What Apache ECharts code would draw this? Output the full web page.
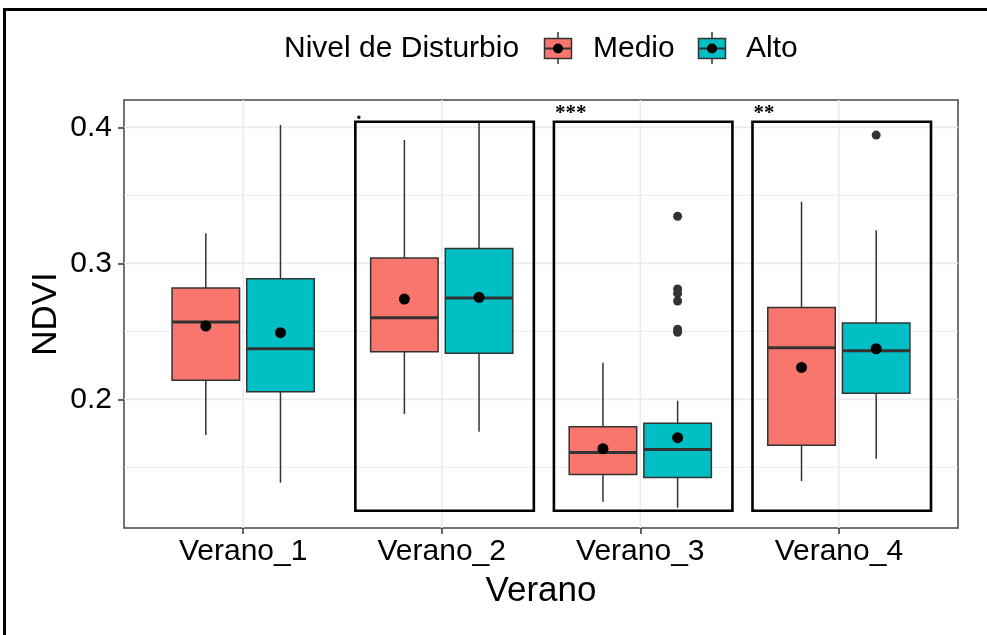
<!DOCTYPE html>
<html>
<head>
<meta charset="utf-8">
<script src="https://cdn.jsdelivr.net/npm/echarts@6/dist/echarts.min.js"></script>
<style>
html,body{margin:0;padding:0;background:#fff;}
#chart{width:987px;height:635px;}
</style>
</head>
<body>
<div id="chart"></div>
<script>
// ---- data ----
const categories = ['Verano_1', 'Verano_2', 'Verano_3', 'Verano_4'];
const groupNames = ['Medio', 'Alto'];
// [lower whisker, Q1, median, Q3, upper whisker]
const medioStats = [
  [0.1737, 0.2140, 0.2568, 0.2818, 0.3221],
  [0.1892, 0.2350, 0.2600, 0.3039, 0.3907],
  [0.1247, 0.1448, 0.1610, 0.1799, 0.2269],
  [0.1399, 0.1662, 0.2380, 0.2676, 0.3453]
];
const altoStats = [
  [0.1387, 0.2056, 0.2372, 0.2887, 0.4017],
  [0.1762, 0.2338, 0.2745, 0.3110, 0.4037],
  [0.1203, 0.1426, 0.1632, 0.1824, 0.1990],
  [0.1563, 0.2044, 0.2357, 0.2561, 0.3243]
];
const medioMean = [0.2539, 0.2737, 0.1637, 0.2235];
const altoMean = [0.2490, 0.2750, 0.1718, 0.2372];
const medioOutliers = [];
const altoOutliers = [[3, 0.3346], [3, 0.2811], [3, 0.2779], [3, 0.2723], [3, 0.2515], [3, 0.2493], [4, 0.3943]];
const sigCategories = [2, 3, 4];
const sigLabels = ['.', '***', '**'];
const sigTop = 0.4041;
const sigBottom = 0.1181;
const yTickValues = [0.2, 0.3, 0.4];
const yMinorValues = [0.15, 0.25, 0.35];
const yRange = [0.1054, 0.4201];
const xRange = [0.4, 4.6];

// ---- styles ----
const FONT = "'Liberation Sans', Arial, sans-serif";
const COL_MEDIO = '#F8766D';
const COL_ALTO = '#00BFC4';
const EDGE = '#333333';
const GRID_COL = '#EBEBEB';
const OFF = 0.188;
const BOX_W = 0.34;
const SIG_L = 0.435, SIG_R = 0.464;

function boxRenderer(offset, color) {
  return function (params, api) {
    const x = api.value(0) + offset;
    const lo = api.coord([x, api.value(1)]);
    const q1 = api.coord([x, api.value(2)]);
    const md = api.coord([x, api.value(3)]);
    const q3 = api.coord([x, api.value(4)]);
    const hi = api.coord([x, api.value(5)]);
    const w = api.size([BOX_W, 0])[0];
    const cx = lo[0];
    return {
      type: 'group',
      children: [
        { type: 'line', shape: { x1: cx, y1: lo[1], x2: cx, y2: q1[1] }, style: { stroke: EDGE, lineWidth: 1.5 } },
        { type: 'line', shape: { x1: cx, y1: q3[1], x2: cx, y2: hi[1] }, style: { stroke: EDGE, lineWidth: 1.5 } },
        { type: 'rect', shape: { x: cx - w / 2, y: q3[1], width: w, height: q1[1] - q3[1] }, style: { fill: color, stroke: EDGE, lineWidth: 1.5 } },
        { type: 'line', shape: { x1: cx - w / 2, y1: md[1], x2: cx + w / 2, y2: md[1] }, style: { stroke: EDGE, lineWidth: 3 } }
      ]
    };
  };
}

const chart = echarts.init(document.getElementById('chart'), null, { renderer: 'canvas' });

const option = {
  backgroundColor: '#ffffff',
  animation: false,
  grid: { left: 124, top: 100, width: 834, height: 428, show: true, borderColor: '#444444', borderWidth: 1.5, backgroundColor: 'transparent' },
  xAxis: {
    type: 'value', min: xRange[0], max: xRange[1],
    axisLine: { show: false },
    splitLine: { show: false },
    axisTick: { show: true, customValues: [1, 2, 3, 4], length: 6, lineStyle: { color: EDGE, width: 1.5 } },
    axisLabel: {
      customValues: [1, 2, 3, 4], margin: 9,
      formatter: v => categories[Math.round(v) - 1],
      color: '#000', fontSize: 30, fontFamily: FONT
    }
  },
  yAxis: {
    type: 'value', min: yRange[0], max: yRange[1],
    axisLine: { show: false },
    splitLine: { show: false },
    axisTick: { show: true, customValues: yTickValues, length: 6, lineStyle: { color: EDGE, width: 1.5 } },
    axisLabel: {
      customValues: yTickValues, margin: 12, padding: [5, 0, 0, 0],
      formatter: v => Number(v).toFixed(1),
      color: '#000', fontSize: 30, fontFamily: FONT
    }
  },
  graphic: [
    { type: 'rect', shape: { x: 4.5, y: 9.5, width: 1200, height: 900 }, style: { fill: 'none', stroke: '#000', lineWidth: 3 }, z: 100 },
    { type: 'text', x: 46, y: 314, rotation: Math.PI / 2, style: { text: 'NDVI', fontSize: 35, fontFamily: FONT, fill: '#000', textAlign: 'center', textVerticalAlign: 'middle' } },
    { type: 'text', x: 541, y: 591, style: { text: 'Verano', fontSize: 35, fontFamily: FONT, fill: '#000', textAlign: 'center', textVerticalAlign: 'middle' } },
    { type: 'text', x: 284, y: 49, style: { text: 'Nivel de Disturbio', fontSize: 30, fontFamily: FONT, fill: '#000', textAlign: 'left', textVerticalAlign: 'middle' } },
    // legend key Medio
    { type: 'line', shape: { x1: 558, y1: 32, x2: 558, y2: 64 }, style: { stroke: EDGE, lineWidth: 1.5 } },
    { type: 'rect', shape: { x: 544.5, y: 38.5, width: 27, height: 20 }, style: { fill: COL_MEDIO, stroke: EDGE, lineWidth: 1.5 } },
    { type: 'line', shape: { x1: 544.5, y1: 48.5, x2: 571.5, y2: 48.5 }, style: { stroke: EDGE, lineWidth: 2 } },
    { type: 'circle', shape: { cx: 558, cy: 48.5, r: 5 }, style: { fill: '#000' } },
    { type: 'text', x: 593, y: 49, style: { text: groupNames[0], fontSize: 30, fontFamily: FONT, fill: '#000', textAlign: 'left', textVerticalAlign: 'middle' } },
    // legend key Alto
    { type: 'line', shape: { x1: 712, y1: 32, x2: 712, y2: 64 }, style: { stroke: EDGE, lineWidth: 1.5 } },
    { type: 'rect', shape: { x: 698.5, y: 38.5, width: 27, height: 20 }, style: { fill: COL_ALTO, stroke: EDGE, lineWidth: 1.5 } },
    { type: 'line', shape: { x1: 698.5, y1: 48.5, x2: 725.5, y2: 48.5 }, style: { stroke: EDGE, lineWidth: 2 } },
    { type: 'circle', shape: { cx: 712, cy: 48.5, r: 5 }, style: { fill: '#000' } },
    { type: 'text', x: 746, y: 49, style: { text: groupNames[1], fontSize: 30, fontFamily: FONT, fill: '#000', textAlign: 'left', textVerticalAlign: 'middle' } }
  ],
  series: [
    {
      name: 'gridH', type: 'custom', z: 0, silent: true,
      data: yMinorValues.map(v => [v, 0]).concat(yTickValues.map(v => [v, 1])),
      renderItem: (params, api) => {
        const a = api.coord([xRange[0], api.value(0)]);
        const b = api.coord([xRange[1], api.value(0)]);
        return { type: 'line', shape: { x1: a[0], y1: a[1], x2: b[0], y2: b[1] }, style: { stroke: GRID_COL, lineWidth: api.value(1) ? 1.6 : 1.0 } };
      }
    },
    {
      name: 'gridV', type: 'custom', z: 0, silent: true,
      data: categories.map((c, i) => [i + 1]),
      renderItem: (params, api) => {
        const a = api.coord([api.value(0), yRange[0]]);
        const b = api.coord([api.value(0), yRange[1]]);
        return { type: 'line', shape: { x1: a[0], y1: a[1], x2: b[0], y2: b[1] }, style: { stroke: GRID_COL, lineWidth: 1.6 } };
      }
    },
    {
      name: groupNames[0], type: 'custom', z: 2,
      data: medioStats.map((s, i) => [i + 1].concat(s)),
      renderItem: boxRenderer(-OFF, COL_MEDIO)
    },
    {
      name: groupNames[1], type: 'custom', z: 2,
      data: altoStats.map((s, i) => [i + 1].concat(s)),
      renderItem: boxRenderer(OFF, COL_ALTO)
    },
    {
      name: 'Outliers', type: 'scatter', z: 3, symbolSize: 9,
      itemStyle: { color: EDGE, opacity: 1 },
      data: medioOutliers.map(o => [o[0] - OFF, o[1]]).concat(altoOutliers.map(o => [o[0] + OFF, o[1]]))
    },
    {
      name: 'Media', type: 'scatter', z: 4, symbolSize: 11,
      itemStyle: { color: '#000', opacity: 1 },
      data: medioMean.map((m, i) => [i + 1 - OFF, m]).concat(altoMean.map((m, i) => [i + 1 + OFF, m]))
    },
    {
      name: 'Significancia', type: 'custom', z: 5,
      data: sigCategories.map(c => [c]),
      renderItem: (params, api) => {
        const c = api.value(0);
        const tl = api.coord([c - SIG_L, sigTop]);
        const br = api.coord([c + SIG_R, sigBottom]);
        return {
          type: 'group',
          children: [
            { type: 'rect', shape: { x: tl[0], y: tl[1], width: br[0] - tl[0], height: br[1] - tl[1] }, style: { fill: 'none', stroke: '#000', lineWidth: 2.6 } },
            { type: 'text', x: tl[0] + 1, y: tl[1] + 2.5, style: { text: sigLabels[params.dataIndex], fontSize: 21, fontWeight: 'bold', fontFamily: "'Liberation Serif', 'Times New Roman', serif", fill: '#000', textAlign: 'left', textVerticalAlign: 'bottom' } }
          ]
        };
      }
    }
  ]
};
chart.setOption(option);
</script>
</body>
</html>
